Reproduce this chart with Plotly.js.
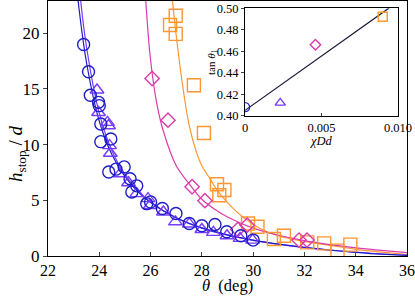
<!DOCTYPE html>
<html><head><meta charset="utf-8">
<script src="https://cdn.plot.ly/plotly-3.0.1.min.js"></script>
<style>html,body{margin:0;padding:0;background:#fff}#c{width:415px;height:297px}</style>
</head><body><div id="c"></div>
<script>
// Circles (blue)
const circX = [23.39,23.58,23.65,23.97,24.0,24.06,24.06,24.45,24.37,24.65,24.97,25.2,25.46,25.27,25.85,26.0,26.46,26.99,27.51,28.0,28.51,28.97,29.52,30.0];
const circY = [19.0,16.55,14.44,13.8,13.5,11.85,10.27,10.51,7.54,7.8,8.0,6.94,6.3,5.75,4.7,4.86,4.26,3.81,2.92,2.71,2.83,2.18,1.82,1.43];
// Triangles (violet)
const triX = [23.91,23.97,24.32,24.36,24.4,24.43,24.81,25.14,25.46,25.9,25.98,26.5,26.97,27.51,28.0,28.45,28.98,29.49,29.98];
const triY = [14.91,12.89,12.0,11.7,9.91,9.23,7.38,6.58,5.6,5.15,4.53,3.95,3.07,2.88,2.38,2.12,1.82,1.58,1.43];
// Diamonds (magenta)
const diaX = [26.06,26.68,27.62,28.12,29.4,29.77,31.79,32.1];
const diaY = [15.94,12.2,6.22,4.97,2.38,2.77,1.43,1.43];
// Squares (orange)
const sqX = [26.98,26.76,26.98,27.69,28.08,28.59,28.88,28.68,29.8,30.17,30.81,31.2,32.11,32.77,33.29,33.79];
const sqY = [21.58,20.75,19.95,15.33,11.04,6.45,5.93,5.46,2.92,2.63,1.52,1.82,1.22,1.13,0.48,1.02];
// Fit curves
const blueCurveX = [23.17,23.5,24.0,24.5,25.0,25.5,26.0,27.0,28.0,29.0,30.0,31.0,32.0,33.0,34.0,35.0,36.0];
const blueCurveY = [23.0,17.4,12.1,9.07,7.14,5.78,4.8,3.43,2.53,1.9,1.42,1.06,0.77,0.53,0.33,0.16,0.05];
const violetCurveX = [23.27,23.5,24.0,24.5,25.0,25.5,26.0,27.0,28.0,29.0,30.0,31.0,32.0,33.0,34.0,35.0,36.0];
const violetCurveY = [23.0,18.8,12.8,9.4,7.3,5.9,4.85,3.42,2.5,1.87,1.41,1.04,0.76,0.53,0.34,0.18,0.06];
const magCurveX = [25.81,26.0,26.25,26.5,27.0,27.5,28.0,28.5,29.0,30.0,31.0,32.0,33.0,34.0,35.0,36.0];
const magCurveY = [23.0,17.6,13.6,11.2,8.1,6.5,5.1,4.2,3.5,2.5,1.86,1.38,1.02,0.73,0.5,0.3];
const orCurveX = [26.85,27.0,27.25,27.5,27.75,28.0,28.33,28.6,29.0,29.6,30.25,31.0,32.0,33.0,34.0,35.0,36.0];
const orCurveY = [23.0,19.8,15.3,11.8,9.6,8.1,6.9,5.9,4.8,3.5,2.5,1.8,1.3,0.95,0.6,0.35,0.12];
// Inset
const insetX = [0, 0.0023, 0.0046, 0.0090];
const insetY = [0.408, 0.412, 0.466, 0.492];
const insetLineX = [0, 0.0094];
const insetLineY = [0.405, 0.500];
const xTicks = [22,24,26,28,30,32,34,36];
const yTicks = [0,5,10,15,20];
const insetXTicks = [0,0.005,0.010];
const insetXLabels = ['0','0.005','0.010'];
const insetYTicks = [0.40,0.42,0.44,0.46,0.48,0.50];

const cBlue = 'rgb(30,30,200)', cViolet = 'rgb(120,60,255)', cMag = 'rgb(220,60,170)', cOr = 'rgb(255,150,50)';
const F = '"Liberation Serif", "Times New Roman", serif';

function curve(x,y,c){return {x:x,y:y,mode:'lines',line:{color:c,width:1.2,shape:'spline'},hoverinfo:'skip'};}
function pts(x,y,sym,c,sz,xa,ya){return {x:x,y:y,mode:'markers',xaxis:xa||'x',yaxis:ya||'y',marker:{symbol:sym,size:sz,color:c,line:{color:c,width:1.4}}};}

const data = [
  curve(orCurveX,orCurveY,cOr),
  curve(magCurveX,magCurveY,cMag),
  curve(violetCurveX,violetCurveY,cViolet),
  curve(blueCurveX,blueCurveY,cBlue),
  pts(sqX,sqY,'square-open',cOr,13),
  pts(diaX,diaY,'diamond-open',cMag,11),
  pts(triX,triY,'triangle-up-open',cViolet,12),
  pts(circX,circY,'circle-open',cBlue,12),
  {x:insetLineX,y:insetLineY,xaxis:'x2',yaxis:'y2',mode:'lines',line:{color:'#1a1a3a',width:1.2}},
  pts([insetX[0]],[insetY[0]],'circle-open',cBlue,9,'x2','y2'),
  pts([insetX[1]],[insetY[1]],'triangle-up-open',cViolet,9,'x2','y2'),
  pts([insetX[2]],[insetY[2]],'diamond-open',cMag,8,'x2','y2'),
  pts([insetX[3]],[insetY[3]],'square-open',cOr,9,'x2','y2')
];

const layout = {
  width:415,height:297,showlegend:false,
  margin:{l:48,r:8,t:1,b:41},
  paper_bgcolor:'#fff',plot_bgcolor:'#fff',
  font:{family:F,color:'#000'},
  xaxis:{range:[22,36],tickvals:xTicks,ticktext:xTicks.map(String),ticks:'inside',ticklen:4,
    showline:true,linecolor:'#000',linewidth:1.2,mirror:true,showgrid:false,zeroline:false,
    ticklabeloverflow:'allow',tickfont:{size:16,family:F},domain:[0,1]},
  yaxis:{range:[0,22.9],tickvals:yTicks,ticktext:yTicks.map(String),ticks:'outside',ticklen:4,
    showline:true,linecolor:'#000',linewidth:1.2,mirror:true,showgrid:false,zeroline:false,
    tickfont:{size:17,family:F}},
  xaxis2:{domain:[0.549,0.975],anchor:'y2',range:[0,0.010],tickvals:insetXTicks,ticktext:insetXLabels,
    ticks:'inside',ticklen:3,showline:true,linecolor:'#000',linewidth:1,mirror:true,showgrid:false,zeroline:false,
    tickfont:{size:12.5,family:F}},
  yaxis2:{domain:[0.55,0.972],anchor:'x2',range:[0.40,0.50],tickvals:insetYTicks,
    ticktext:insetYTicks.map(v=>v.toFixed(2)),ticks:'outside',ticklen:3,
    showline:true,linecolor:'#000',linewidth:1,mirror:true,showgrid:false,zeroline:false,
    tickfont:{size:12.5,family:F}},
  annotations:[
    {text:'<i>θ</i>  (deg)',xref:'paper',yref:'paper',x:0.5,y:0,xanchor:'center',yanchor:'bottom',yshift:-41,showarrow:false,font:{size:16.5,family:F}},
    {text:'<i>h</i><sub>stop</sub> / <i>d</i>',xref:'paper',yref:'paper',x:0,y:0.40,xanchor:'center',yanchor:'middle',xshift:-31,textangle:-90,showarrow:false,font:{size:19,family:F}},
    {text:'<i>χDd</i>',xref:'x2 domain',yref:'y2 domain',x:0.5,y:0,xanchor:'center',yanchor:'top',yshift:-16,showarrow:false,font:{size:12.5,family:F}},
    {text:'tan <i>θ</i><sub>1</sub>',xref:'x2 domain',yref:'y2 domain',x:0,y:0.5,xanchor:'center',yanchor:'middle',xshift:-33,textangle:-90,showarrow:false,font:{size:11,family:F}}
  ]
};
Plotly.newPlot('c',data,layout,{displayModeBar:false,staticPlot:true});
</script></body></html>
